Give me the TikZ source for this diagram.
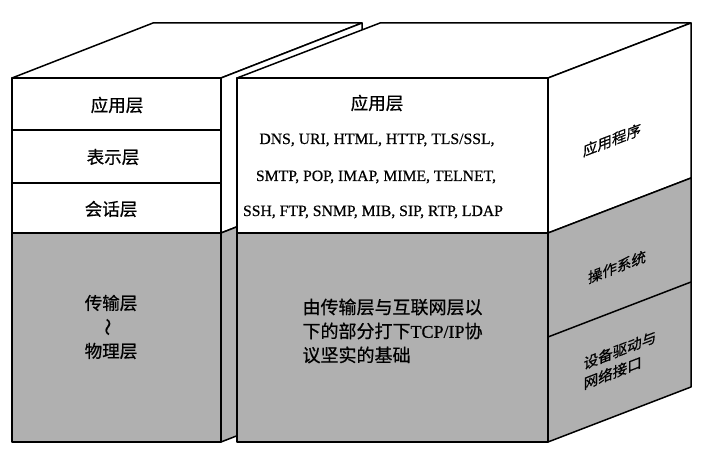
\documentclass[tikz,border=0pt]{standalone}
\usepackage{fontspec}
\setmainfont{Liberation Serif}
\newfontfamily\cjk[FakeBold=0.7]{Noto Sans CJK SC}
\newfontfamily\protofont[FakeBold=0.5]{Liberation Serif}
\usepackage{tikz}
\usetikzlibrary{positioning}

\begin{document}
\begin{tikzpicture}[x=1pt, y=-1pt, line join=round,
  face/.style={draw, line width=1.5pt, fill=white},
  grayface/.style={face, fill=black!31},
  lay/.style={font=\cjk\fontsize{17.5}{24}\selectfont},
  proto/.style={font=\protofont\fontsize{15.7}{18}\selectfont},
  side/.style={font=\cjk\fontsize{14.5}{20}\selectfont, yslant=0.385, align=left}]
\useasboundingbox (0,0) rectangle (710,457);
% OSI block (left)
\filldraw[face] (12,78) -- (153,23) -- (362,23) -- (221,78) -- cycle;
\filldraw[face] (221,78) -- (362,23) -- (362,178) -- (221,233) -- cycle;
\filldraw[grayface] (221,233) -- (362,178) -- (362,387) -- (221,442) -- cycle;
\filldraw[face] (12,78) rectangle (221,233);
\draw[face] (12,130) -- (221,130) (12,183) -- (221,183);
\filldraw[grayface] (12,233) rectangle (221,442);
% TCP/IP block (right)
\filldraw[face] (237,78) -- (380,23) -- (691,23) -- (548,78) -- cycle;
\filldraw[face] (548,78) -- (691,23) -- (691,178) -- (548,233) -- cycle;
\filldraw[grayface] (548,233) -- (691,178) -- (691,387) -- (548,442) -- cycle;
\draw[face] (548,337) -- (691,282);
\filldraw[face] (237,78) rectangle (548,233);
\filldraw[grayface] (237,233) rectangle (548,442);
% OSI labels
\node[lay] (osiapp) at (117,105) {应用层};
\node[lay] (osipre) at (113,157) {表示层};
\node[lay] (osises) at (111,209) {会话层};
\node[lay] (ositra) at (111,303) {传输层};
\node[lay, rotate=90] (ositil) at (110,327) {～};
\node[lay] (osiphy) at (111,351) {物理层};
% TCP/IP labels
\node[lay] (tcpapp) at (377,103) {应用层};
\node[proto] (prota) at (377,140) {DNS, URI, HTML, HTTP, TLS/SSL,};
\node[proto] (protb) at (376,177) {SMTP, POP, IMAP, MIME, TELNET,};
\node[proto] (protc) at (373,212) {SSH, FTP, SNMP, MIB, SIP, RTP, LDAP};
\node[lay, font=\cjk\fontsize{18}{24}\selectfont, align=left, anchor=west] (tcpbase) at (299,331)
  {由传输层与互联网层以\\下的部分打下{\protofont TCP/IP}协\\议坚实的基础};
% side labels
\node[side] (apps) at (612,140) {应用程序};
\node[side] (opsys) at (617,267) {操作系统};
\node[side] (driver) at (620,360) {设备驱动与\\网络接口};
\end{tikzpicture}
\end{document}
